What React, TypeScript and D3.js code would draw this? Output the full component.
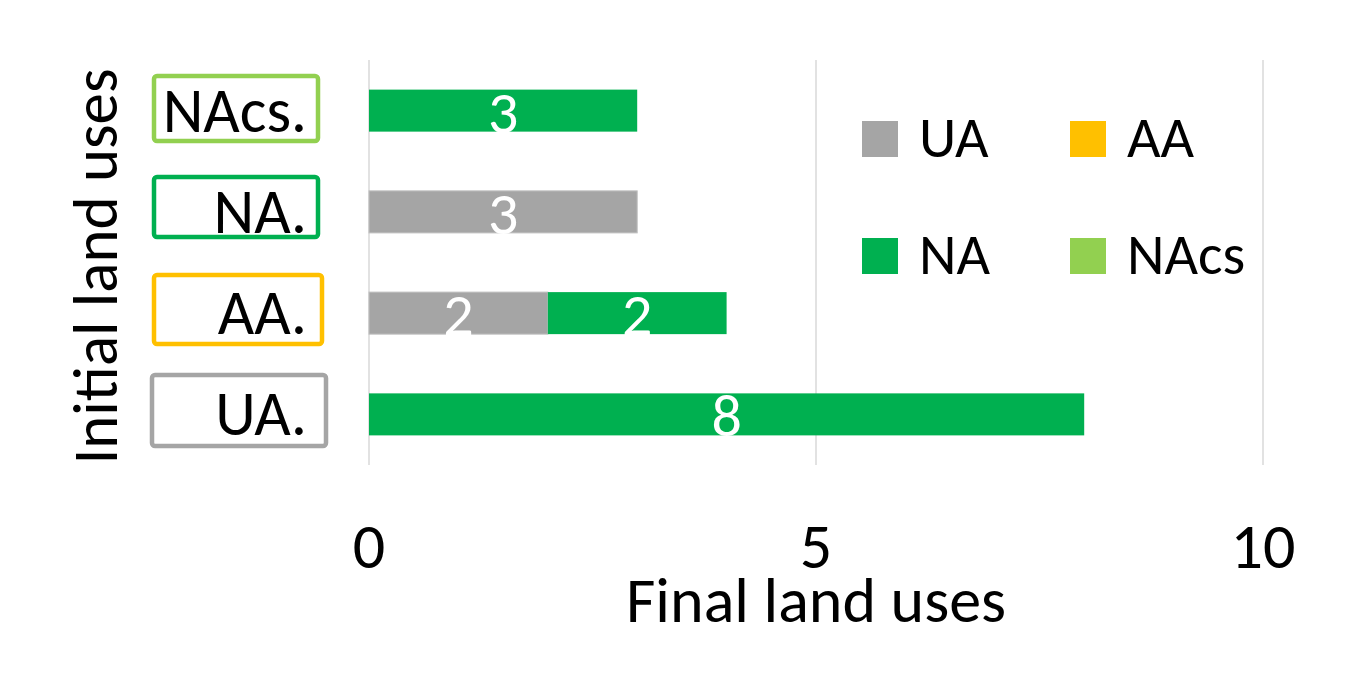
import React from "react";
import * as d3 from "d3";

const categories = ["UA.", "AA.", "NA.", "NAcs."];
const seriesKeys = ["UA", "AA", "NA", "NAcs"];
const uaValues = [0, 2, 3, 0];
const aaValues = [0, 0, 0, 0];
const naValues = [8, 2, 0, 3];
const nacsValues = [0, 0, 0, 0];
const xTicks = [0, 5, 10];

const colors: Record<string, string> = {
  UA: "#A5A5A5",
  AA: "#FFC000",
  NA: "#00B050",
  NAcs: "#92D050",
};
const catColor: Record<string, string> = {
  "UA.": "#A5A5A5",
  "AA.": "#FFC000",
  "NA.": "#00B050",
  "NAcs.": "#92D050",
};
// label box geometry (layout, not data)
const boxLayout: Record<string, { x0: number; x1: number; y0: number; y1: number }> = {
  "NAcs.": { x0: 154, x1: 318, y0: 76, y1: 141 },
  "NA.": { x0: 154, x1: 318, y0: 177, y1: 237 },
  "AA.": { x0: 154, x1: 322, y0: 275, y1: 344 },
  "UA.": { x0: 152, x1: 326, y0: 375, y1: 446 },
};

const FONT = "Carlito, Calibri, Lato, sans-serif";

export default function App() {
  const W = 1367, H = 695;
  const plotTop = 60, plotBottom = 465;
  const x = d3.scaleLinear().domain([0, 10]).range([369, 1263]);
  const y = d3
    .scaleBand<string>()
    .domain([...categories].reverse())
    .range([plotTop, plotBottom])
    .paddingInner(0.585)
    .paddingOuter(0.2925);

  const table = categories.map((c, i) => ({
    cat: c,
    UA: uaValues[i],
    AA: aaValues[i],
    NA: naValues[i],
    NAcs: nacsValues[i],
  }));
  const stacked = d3.stack<any>().keys(seriesKeys)(table);

  const legendItems = [
    { key: "UA", col: 0, row: 0 },
    { key: "AA", col: 1, row: 0 },
    { key: "NA", col: 0, row: 1 },
    { key: "NAcs", col: 1, row: 1 },
  ];

  return (
    <svg
      width={W}
      height={H}
      style={{ position: "absolute", left: 0, top: 0, background: "#fff" }}
      fontFamily={FONT}
    >
      <rect x={0} y={0} width={W} height={H} fill="#fff" />
      {/* gridlines */}
      {xTicks.map((t) => (
        <line
          key={"g" + t}
          x1={x(t)}
          x2={x(t)}
          y1={plotTop}
          y2={plotBottom}
          stroke="#D9D9D9"
          strokeWidth={1.5}
        />
      ))}
      {/* bars */}
      {stacked.map((s) =>
        s.map((d, i) => {
          const v = d[1] - d[0];
          if (v <= 0) return null;
          const cat = categories[i];
          const by = y(cat)!;
          const bw = y.bandwidth();
          return (
            <g key={s.key + cat}>
              <rect
                x={x(d[0])}
                y={by}
                width={x(d[1]) - x(d[0])}
                height={bw}
                fill={colors[s.key]}
                stroke={s.key === "UA" ? "#BFBFBF" : "none"}
                strokeWidth={1}
              />
              <text
                x={(x(d[0]) + x(d[1])) / 2}
                y={by + bw / 2 + 22}
                textAnchor="middle"
                fill="#fff"
                fontSize={60}
              >
                {v}
              </text>
            </g>
          );
        })
      )}
      {/* category label boxes */}
      {categories.map((c) => {
        const b = boxLayout[c];
        return (
          <g key={"box" + c}>
            <rect
              x={b.x0}
              y={b.y0}
              width={b.x1 - b.x0}
              height={b.y1 - b.y0}
              rx={3}
              fill="#fff"
              stroke={catColor[c]}
              strokeWidth={4.5}
            />
            <text
              x={307}
              y={y(c)! + y.bandwidth() / 2 + 21}
              textAnchor="end"
              fontSize={63}
              fill="#000"
            >
              {c}
            </text>
          </g>
        );
      })}
      {/* x tick labels */}
      {xTicks.map((t) => (
        <text key={"t" + t} x={x(t)} y={568} textAnchor="middle" fontSize={64} fill="#000">
          {t}
        </text>
      ))}
      {/* axis titles */}
      <text x={816} y={622} textAnchor="middle" fontSize={64} fill="#000">
        Final land uses
      </text>
      <text
        transform={`translate(117, ${(plotTop + plotBottom) / 2 + 4}) rotate(-90)`}
        textAnchor="middle"
        fontSize={63}
        fill="#000"
      >
        Initial land uses
      </text>
      {/* legend */}
      {legendItems.map((it) => {
        const lx = 862 + it.col * 208;
        const ly = 121 + it.row * 117;
        return (
          <g key={"lg" + it.key}>
            <rect x={lx} y={ly} width={36} height={36} fill={colors[it.key]} />
            <text x={lx + 57} y={ly + 36} fontSize={58} fill="#000">
              {it.key}
            </text>
          </g>
        );
      })}
    </svg>
  );
}
